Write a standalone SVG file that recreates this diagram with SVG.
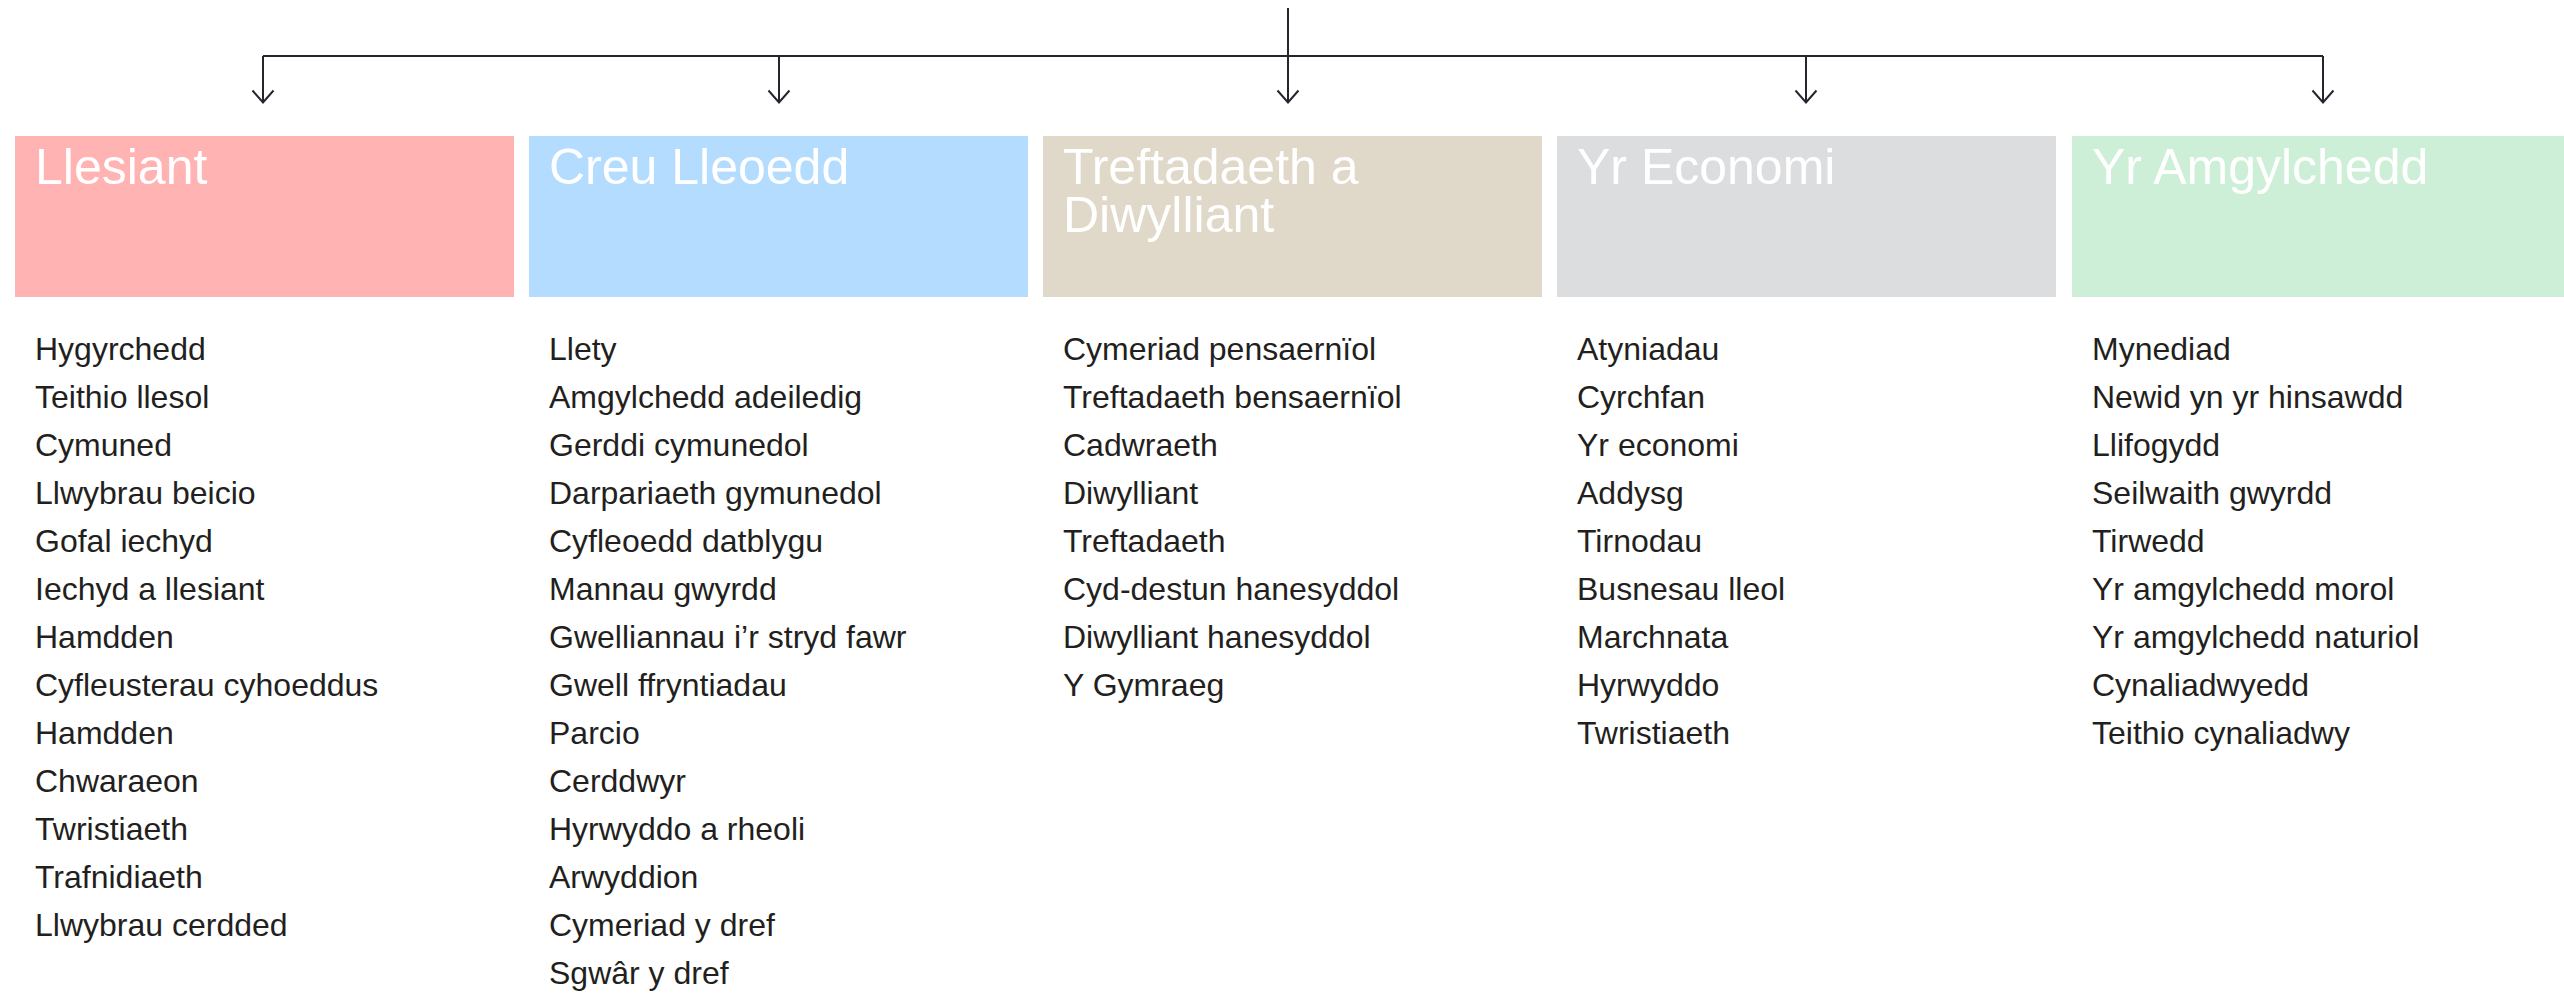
<svg xmlns="http://www.w3.org/2000/svg" width="2564" height="995" viewBox="0 0 2564 995">
<defs>
<style>
.box{stroke:none}
.title{font-family:"Liberation Sans",Arial,sans-serif;font-size:50px;fill:#ffffff}
.item text{font-family:"Liberation Sans",Arial,sans-serif;font-size:32px;fill:#231f20}
.conn{fill:none;stroke:#23262c;stroke-width:2}
</style>
</defs>
<rect width="2564" height="995" fill="#ffffff"/>
<g id="connectors">
<line class="conn" x1="263" y1="56" x2="2323" y2="56"/>
<line class="conn" x1="1288" y1="8" x2="1288" y2="102"/>
<line class="conn" x1="263" y1="56" x2="263" y2="102"/>
<line class="conn" x1="779" y1="56" x2="779" y2="102"/>
<line class="conn" x1="1806" y1="56" x2="1806" y2="102"/>
<line class="conn" x1="2323" y1="56" x2="2323" y2="102"/>
<g class="conn">
<path d="M252.5,90.5 L263,102.5 L273.5,90.5"/>
<path d="M768.5,90.5 L779,102.5 L789.5,90.5"/>
<path d="M1277.5,90.5 L1288,102.5 L1298.5,90.5"/>
<path d="M1795.5,90.5 L1806,102.5 L1816.5,90.5"/>
<path d="M2312.5,90.5 L2323,102.5 L2333.5,90.5"/>
</g>
</g>
<g id="llesiant">
<rect class="box" x="15" y="136" width="499" height="161" fill="#ffb3b3"/>
<text class="title" x="35" y="184">Llesiant</text>
<g class="item">
<text x="35" y="359.5">Hygyrchedd</text>
<text x="35" y="407.5">Teithio llesol</text>
<text x="35" y="455.5">Cymuned</text>
<text x="35" y="503.5">Llwybrau beicio</text>
<text x="35" y="551.5">Gofal iechyd</text>
<text x="35" y="599.5">Iechyd a llesiant</text>
<text x="35" y="647.5">Hamdden</text>
<text x="35" y="695.5">Cyfleusterau cyhoeddus</text>
<text x="35" y="743.5">Hamdden</text>
<text x="35" y="791.5">Chwaraeon</text>
<text x="35" y="839.5">Twristiaeth</text>
<text x="35" y="887.5">Trafnidiaeth</text>
<text x="35" y="935.5">Llwybrau cerdded</text>
</g>
</g>
<g id="creu-lleoedd">
<rect class="box" x="529" y="136" width="499" height="161" fill="#b3dcff"/>
<text class="title" x="549" y="184">Creu Lleoedd</text>
<g class="item">
<text x="549" y="359.5">Llety</text>
<text x="549" y="407.5">Amgylchedd adeiledig</text>
<text x="549" y="455.5">Gerddi cymunedol</text>
<text x="549" y="503.5">Darpariaeth gymunedol</text>
<text x="549" y="551.5">Cyfleoedd datblygu</text>
<text x="549" y="599.5">Mannau gwyrdd</text>
<text x="549" y="647.5">Gwelliannau i’r stryd fawr</text>
<text x="549" y="695.5">Gwell ffryntiadau</text>
<text x="549" y="743.5">Parcio</text>
<text x="549" y="791.5">Cerddwyr</text>
<text x="549" y="839.5">Hyrwyddo a rheoli</text>
<text x="549" y="887.5">Arwyddion</text>
<text x="549" y="935.5">Cymeriad y dref</text>
<text x="549" y="983.5">Sgwâr y dref</text>
</g>
</g>
<g id="treftadaeth">
<rect class="box" x="1043" y="136" width="499" height="161" fill="#e0d9c9"/>
<text class="title" x="1063" y="184">Treftadaeth a</text>
<text class="title" x="1063" y="232">Diwylliant</text>
<g class="item">
<text x="1063" y="359.5">Cymeriad pensaernïol</text>
<text x="1063" y="407.5">Treftadaeth bensaernïol</text>
<text x="1063" y="455.5">Cadwraeth</text>
<text x="1063" y="503.5">Diwylliant</text>
<text x="1063" y="551.5">Treftadaeth</text>
<text x="1063" y="599.5">Cyd-destun hanesyddol</text>
<text x="1063" y="647.5">Diwylliant hanesyddol</text>
<text x="1063" y="695.5">Y Gymraeg</text>
</g>
</g>
<g id="economi">
<rect class="box" x="1557" y="136" width="499" height="161" fill="#dcdddf"/>
<text class="title" x="1577" y="184">Yr Economi</text>
<g class="item">
<text x="1577" y="359.5">Atyniadau</text>
<text x="1577" y="407.5">Cyrchfan</text>
<text x="1577" y="455.5">Yr economi</text>
<text x="1577" y="503.5">Addysg</text>
<text x="1577" y="551.5">Tirnodau</text>
<text x="1577" y="599.5">Busnesau lleol</text>
<text x="1577" y="647.5">Marchnata</text>
<text x="1577" y="695.5">Hyrwyddo</text>
<text x="1577" y="743.5">Twristiaeth</text>
</g>
</g>
<g id="amgylchedd">
<rect class="box" x="2072" y="136" width="499" height="161" fill="#cdefd8"/>
<text class="title" x="2092" y="184">Yr Amgylchedd</text>
<g class="item">
<text x="2092" y="359.5">Mynediad</text>
<text x="2092" y="407.5">Newid yn yr hinsawdd</text>
<text x="2092" y="455.5">Llifogydd</text>
<text x="2092" y="503.5">Seilwaith gwyrdd</text>
<text x="2092" y="551.5">Tirwedd</text>
<text x="2092" y="599.5">Yr amgylchedd morol</text>
<text x="2092" y="647.5">Yr amgylchedd naturiol</text>
<text x="2092" y="695.5">Cynaliadwyedd</text>
<text x="2092" y="743.5">Teithio cynaliadwy</text>
</g>
</g>
</svg>
